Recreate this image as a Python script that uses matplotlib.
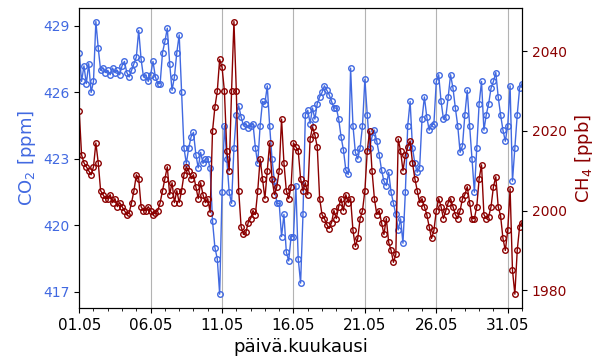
import numpy as np
import pandas as pd
import matplotlib
matplotlib.use("Agg")
import matplotlib.pyplot as plt
import matplotlib.dates as mdates

# 4-hourly readings, 01.05 00:00 -> 01.06 00:00 (one row = one day)
co2_ppm = [
    427.8, 426.5, 427.2, 426.4, 427.3, 426.0,
    426.5, 429.2, 428.0, 427.0, 427.1, 426.9,
    427.0, 426.8, 427.1, 426.9, 427.0, 426.8,
    427.2, 427.4, 426.9, 426.7, 427.0, 427.3,
    427.6, 428.8, 427.5, 426.7, 426.8, 426.5,
    426.8, 427.4, 426.7, 426.4, 426.4, 427.8,
    428.3, 428.9, 427.3, 426.1, 426.7, 427.8,
    428.6, 426.0, 423.5, 422.8, 423.5, 424.0,
    424.2, 423.2, 422.6, 423.3, 422.8, 423.0,
    423.0, 422.6, 420.2, 419.0, 418.5, 416.9,
    421.5, 424.5, 423.0, 421.5, 421.0, 423.5,
    425.0, 425.4, 424.9, 424.5, 424.6, 424.4,
    424.5, 424.6, 423.5, 422.8, 424.5, 425.6,
    425.5, 426.3, 424.5, 423.0, 422.0, 421.0,
    421.0, 419.5, 420.5, 418.8, 418.4, 419.5,
    419.5, 421.8, 418.5, 417.4, 420.5, 425.0,
    425.2, 424.6, 425.3, 424.8, 425.5, 425.8,
    426.0, 426.3, 426.1, 425.9, 425.6, 425.3,
    425.3, 424.8, 424.0, 423.4, 422.5, 422.3,
    427.1, 424.5, 423.3, 423.0, 423.5, 424.5,
    426.6, 425.0, 423.5, 424.0, 424.3, 423.8,
    423.2, 422.5, 422.0, 421.8, 422.4, 421.5,
    421.0, 420.5, 419.8, 420.3, 419.2, 421.5,
    424.5, 425.6, 423.5, 422.8, 422.4, 422.6,
    424.8, 425.8, 424.9, 424.3, 424.5, 424.6,
    426.5, 426.8, 425.6, 424.8, 424.9, 425.8,
    426.8, 426.2, 425.3, 424.5, 423.3, 423.6,
    425.0, 426.1, 424.5, 423.0, 421.5, 423.5,
    425.5, 426.5, 424.3, 425.0, 425.5, 426.2,
    426.5, 426.9, 425.8, 425.0, 424.3, 423.8,
    424.5, 426.3, 422.0, 423.5, 425.0, 426.2,
    426.4,
]
ch4_ppb = [
    2025, 2014, 2012, 2011, 2010, 2009,
    2011, 2017, 2012, 2005, 2004, 2003,
    2003, 2004, 2002, 2003, 2001, 2002,
    2001, 2000, 1999, 1999.5, 2002, 2005,
    2009, 2008, 2001, 2000, 2000, 2001,
    2000, 1999, 1999.5, 2000, 2002, 2005,
    2008, 2011, 2004, 2007, 2002, 2005,
    2002, 2005, 2009, 2011, 2010, 2008,
    2009, 2006, 2003, 2007, 2004, 2002,
    2003, 1999.5, 2020, 2026, 2030, 2038,
    2036, 2030, 2015, 2010, 2030, 2047.5,
    2030, 2005, 1996, 1994, 1994.5, 1997,
    1998, 2000, 1999, 2005, 2013, 2008,
    2003, 2010, 2017, 2008, 2004, 2006,
    2010, 2023, 2012, 2005, 2003, 2006,
    2017, 2016, 2015, 2008, 2005, 2007,
    2004, 2018, 2021, 2019, 2016, 2003,
    1999, 1998, 1996.5, 1995.5, 1997, 2000,
    1998, 2001, 2003, 2000, 2004, 2002,
    2003, 1995, 1991, 1993, 1998, 2000,
    2005, 2015, 2020, 2010, 2003, 1999,
    2000, 1997, 1994, 1998, 1992, 1990,
    1987, 1989, 2018, 2015, 2010, 2014,
    2016, 2017.5, 2012, 2008, 2005, 2002,
    2003, 2001, 1999, 1996, 1993, 1995,
    2000, 2003, 2001, 1998, 2000, 2002,
    2003, 2001, 1999, 1998, 2000, 2003,
    2004, 2006, 2002, 1998, 1998, 2001,
    2008, 2011.5, 1999, 1998, 1998.5, 2001,
    2006, 2008.5, 2001, 1998.7, 1993, 1990,
    1995, 2005.5, 1985, 1979, 1990, 1996,
    1997,
]
times = pd.date_range("2024-05-01 00:00", periods=len(co2_ppm), freq="4h")
day_ticks = pd.date_range("2024-05-01", "2024-05-31", freq="5D")

C_CO2 = "royalblue"
C_CH4 = "darkred"

fig = plt.figure(figsize=(6.0, 3.6), dpi=100)
ax = fig.add_axes([0.132, 0.145, 0.738, 0.833])
ax.plot(times, co2_ppm, "-o", color=C_CO2, mfc="none", ms=4, mew=1.0, lw=1.0)
ax.set_ylabel("CO$_2$ [ppm]", color=C_CO2, fontsize=13)
ax.set_yticks([417, 420, 423, 426, 429])
ax.tick_params(axis="y", labelcolor=C_CO2, labelsize=10)
ax.tick_params(axis="x", labelsize=11)
ax.set_xlabel("päivä.kuukausi", fontsize=13)

ax.set_xticks(day_ticks)
ax.xaxis.set_minor_locator(mdates.DayLocator())
ax.xaxis.set_major_formatter(mdates.DateFormatter("%d.%m"))
ax.set_xlim(times[0], times[-1])
ax.grid(axis="x", which="major", color="0.7", lw=0.8)

ax2 = ax.twinx()
ax2.plot(times, ch4_ppb, "-o", color=C_CH4, mfc="none", ms=4, mew=1.0, lw=1.0)
ax2.set_ylabel("CH$_4$ [ppb]", color=C_CH4, fontsize=13)
ax2.set_yticks([1980, 2000, 2020, 2040])
ax2.tick_params(axis="y", labelcolor=C_CH4, labelsize=10)

fig.savefig("out.png", dpi=100)
